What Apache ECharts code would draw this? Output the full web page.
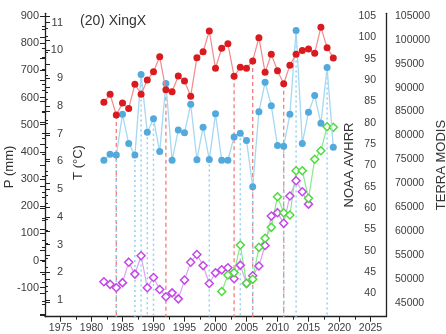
<!DOCTYPE html>
<html>
<head>
<meta charset="utf-8">
<script src="https://cdn.jsdelivr.net/npm/echarts@6/dist/echarts.min.js"></script>
<style>html,body{margin:0;padding:0;background:#fff}#c{width:446px;height:334px}</style>
</head>
<body>
<div id="c"></div>
<script>
// ---------------- data ----------------
const years = [1982,1983,1984,1985,1986,1987,1988,1989,1990,1991,1992,1993,1994,1995,1996,1997,1998,1999,2000,2001,2002,2003,2004,2005,2006,2007,2008,2009,2010,2011,2012,2013,2014,2015,2016,2017,2018,2019];
const tempT = [8.13,8.42,7.67,8.10,7.91,8.78,8.42,8.93,9.23,9.77,8.58,8.51,9.08,8.90,8.35,9.74,9.95,10.70,9.36,10.08,10.24,9.07,9.39,9.36,9.62,10.46,9.21,9.86,9.27,8.80,9.47,9.86,10.00,10.05,9.90,10.84,10.10,9.73];
const precipP = [369,391,388,538,431,388,685,472,522,401,652,369,480,470,575,371,491,372,540,369,369,455,468,442,272,548,656,570,423,421,538,847,431,546,607,505,710,417];
const noaaYears = [1982,1983,1984,1985,1986,1987,1988,1989,1990,1991,1992,1993,1994,1995,1996,1997,1998,1999,2000,2001,2002,2003,2004,2005,2006,2007,2008,2009,2010,2011,2012,2013,2014,2015];
const noaaAVHRR = [42.7,42.1,41.3,42.5,47.3,44.5,48.8,41.3,43.7,40.9,39.2,40.1,38.7,43.1,47.3,49.1,46.5,42.3,44.8,45.5,46.0,43.4,46.6,42.3,44.1,46.4,51.2,58.1,58.9,56.4,62.8,66.4,63.8,60.9];
const modisYears = [2001,2002,2003,2004,2005,2006,2007,2008,2009,2010,2011,2012,2013,2014,2015,2016,2017,2018,2019];
const terraMODIS = [47340,50790,51300,57070,49055,49890,56590,58470,60775,67180,63830,63350,72620,72620,66840,75010,76810,81830,81700];
const redDropYears = [1984,1992,2003,2006,2011];
const blueDropYears = [1984,1987,1988,1989,1990,1999,2004,2006,2011,2013,2018];
const xTicks = {min:1975, max:2025, step:5};
const pTicks = {min:-200, max:900, step:100};
const tTicks = {min:1, max:11, step:1};
const nTicks = {min:35, max:105, step:5};
const mTicks = {min:45000, max:105000, step:5000};
const titleText = '(20) XingX';

// ---------------- layout ----------------
const FONT = 'Liberation Sans, Arial, sans-serif';
const F = {l:45, r:386, t:13.3, b:316.7};
const XR = {min:1972.5, max:2027.5};
const calP = {vTop:900, pTop:16, vBot:-100, pBot:287.7};
const calT = {vTop:11, pTop:22.7, vBot:1, pBot:300};
const calN = {vTop:105, pTop:16, vBot:40, pBot:293.3};
const calM = {vTop:105000, pTop:16, vBot:45000, pBot:302.7};
function ppu(c){return (c.pBot-c.pTop)/(c.vTop-c.vBot);}
function pix(c,v){return c.pTop+(c.vTop-v)*ppu(c);}
function frameExt(c){const k=ppu(c);return {min:c.vBot-(F.b-c.pBot)/k, max:c.vTop+(c.pTop-F.t)/k};}
function xpix(v){return F.l+(v-XR.min)/(XR.max-XR.min)*(F.r-F.l);}
function labelGrid(c,tk){const top=pix(c,tk.max);return {left:F.l,width:F.r-F.l,top:top,height:pix(c,tk.min)-top};}

const AX = '#222';
const LBL = '#3c3c3c';
const gridFrame = {left:F.l, width:F.r-F.l, top:F.t, height:F.b-F.t};
const gridX = {left:xpix(xTicks.min), width:xpix(xTicks.max)-xpix(xTicks.min), top:F.t, height:F.b-F.t};

const hiddenX = g => ({gridIndex:g, type:'value', show:false, min:0, max:1});
const tickStyle = {color:AX, width:1};
const plain = v => String(v);

const option = {
  animation:false,
  textStyle:{fontFamily:FONT},
  grid:[gridFrame, gridX, labelGrid(calP,pTicks), labelGrid(calT,tTicks), labelGrid(calN,nTicks), labelGrid(calM,mTicks)],
  xAxis:[
    {gridIndex:0, type:'value', min:XR.min, max:XR.max, axisLine:{show:true,onZero:false,lineStyle:{color:AX,width:1.3}}, axisTick:{show:false}, axisLabel:{show:false}, splitLine:{show:false}},
    {gridIndex:1, type:'value', min:xTicks.min, max:xTicks.max, interval:xTicks.step,
      axisLine:{show:false}, axisTick:{show:true,length:5,lineStyle:tickStyle},
      minorTick:{show:true,splitNumber:2,length:3,lineStyle:tickStyle},
      axisLabel:{color:LBL,fontSize:10.5,margin:6,fontFamily:FONT,formatter:plain}, splitLine:{show:false}},
    hiddenX(2), hiddenX(3), hiddenX(4), hiddenX(5)
  ],
  yAxis:[
    {gridIndex:0, type:'value', position:'left', min:0, max:1, axisLine:{show:true,onZero:false,lineStyle:{color:AX,width:1.3}}, axisTick:{show:false}, axisLabel:{show:false}, splitLine:{show:false}},
    {gridIndex:0, type:'value', position:'right', min:0, max:1, axisLine:{show:true,onZero:false,lineStyle:{color:AX,width:1.3}}, axisTick:{show:false}, axisLabel:{show:false}, splitLine:{show:false}},
    Object.assign({gridIndex:0, type:'value', show:false}, frameExt(calP)),
    Object.assign({gridIndex:0, type:'value', show:false}, frameExt(calT)),
    Object.assign({gridIndex:0, type:'value', show:false}, frameExt(calN)),
    Object.assign({gridIndex:0, type:'value', show:false}, frameExt(calM)),
    {gridIndex:1, type:'value', show:false, min:0, max:1},
    {gridIndex:2, type:'value', position:'left', min:pTicks.min, max:pTicks.max, interval:pTicks.step,
      axisLine:{show:false}, axisTick:{show:true,length:5,lineStyle:tickStyle},
      minorTick:{show:true,splitNumber:2,length:3,lineStyle:tickStyle},
      axisLabel:{color:LBL,fontSize:11,margin:6,fontFamily:FONT,formatter:v=>v===pTicks.min?'':String(v)}, splitLine:{show:false}},
    {gridIndex:3, type:'value', position:'left', min:tTicks.min, max:tTicks.max, interval:tTicks.step,
      axisLine:{show:false}, axisTick:{show:true,inside:true,length:5,lineStyle:tickStyle},
      minorTick:{show:true,splitNumber:2,length:3,lineStyle:tickStyle},
      axisLabel:{inside:true,align:'right',color:LBL,fontSize:11,margin:18,fontFamily:FONT,formatter:plain}, splitLine:{show:false}},
    {gridIndex:4, type:'value', position:'right', min:nTicks.min, max:nTicks.max, interval:nTicks.step,
      axisLine:{show:false}, axisTick:{show:true,inside:true,length:5,lineStyle:tickStyle},
      minorTick:{show:true,splitNumber:2,length:3,lineStyle:tickStyle},
      axisLabel:{inside:true,align:'right',color:LBL,fontSize:10.5,margin:10,fontFamily:FONT,formatter:v=>v===nTicks.min?'':String(v)}, splitLine:{show:false}},
    {gridIndex:5, type:'value', position:'right', min:mTicks.min, max:mTicks.max, interval:mTicks.step,
      axisLine:{show:false}, axisTick:{show:true,length:5,lineStyle:tickStyle},
      minorTick:{show:true,splitNumber:2,length:3,lineStyle:tickStyle},
      axisLabel:{color:LBL,fontSize:10.5,margin:9,fontFamily:FONT,formatter:plain}, splitLine:{show:false}}
  ],
  series:[
    {type:'custom', xAxisIndex:0, yAxisIndex:3, z:1, silent:true,
      data: redDropYears.map(y=>[y, tempT[years.indexOf(y)]]),
      renderItem:(params,api)=>{const p=api.coord([api.value(0),api.value(1)]);const cs=params.coordSys;
        return {type:'line',shape:{x1:p[0],y1:p[1],x2:p[0],y2:cs.y+cs.height},style:{stroke:'#f07f7f',lineWidth:1.3,lineDash:[4,3]}};}},
    {type:'custom', xAxisIndex:0, yAxisIndex:2, z:2, silent:true,
      data: blueDropYears.map(y=>[y, precipP[years.indexOf(y)]]),
      renderItem:(params,api)=>{const p=api.coord([api.value(0),api.value(1)]);const cs=params.coordSys;
        return {type:'line',shape:{x1:p[0],y1:p[1],x2:p[0],y2:cs.y+cs.height},style:{stroke:'#93cfee',lineWidth:1.5,lineDash:[2,3]}};}},
    {type:'line', name:'NOAA AVHRR', xAxisIndex:0, yAxisIndex:4, z:3, clip:false,
      data: noaaYears.map((y,i)=>[y,noaaAVHRR[i]]),
      symbol:'diamond', symbolSize:8, lineStyle:{color:'#daa3ef',width:1.2},
      itemStyle:{color:'#ffffff',borderColor:'#c447e8',borderWidth:1.5}},
    {type:'line', name:'TERRA MODIS', xAxisIndex:0, yAxisIndex:5, z:3, clip:false,
      data: modisYears.map((y,i)=>[y,terraMODIS[i]]),
      symbol:'diamond', symbolSize:8, lineStyle:{color:'#86ea86',width:1.2},
      itemStyle:{color:'#ffffff',borderColor:'#4cdb3c',borderWidth:1.5}},
    {type:'line', name:'P', xAxisIndex:0, yAxisIndex:2, z:4, clip:false,
      data: years.map((y,i)=>[y,precipP[i]]),
      symbol:'circle', symbolSize:7, lineStyle:{color:'#a6d8f1',width:1.3},
      itemStyle:{color:'#52a9dc'}},
    {type:'line', name:'T', xAxisIndex:0, yAxisIndex:3, z:5, clip:false,
      data: years.map((y,i)=>[y,tempT[i]]),
      symbol:'circle', symbolSize:7, lineStyle:{color:'#f28a8a',width:1.2},
      itemStyle:{color:'#d91a1e'}}
  ],
  graphic:[
    {type:'text', x:80, y:21, style:{text:titleText, font:'14px '+FONT, fill:'#333', align:'left', verticalAlign:'middle', textAlign:'left', textVerticalAlign:'middle'}},
    {type:'text', x:9, y:167, rotation:Math.PI/2, style:{text:'P (mm)', font:'13px '+FONT, fill:'#333', align:'center', verticalAlign:'middle', textAlign:'center', textVerticalAlign:'middle'}},
    {type:'text', x:78.5, y:162.5, rotation:Math.PI/2, style:{text:'T (°C)', font:'13px '+FONT, fill:'#333', align:'center', verticalAlign:'middle', textAlign:'center', textVerticalAlign:'middle'}},
    {type:'text', x:349.5, y:165, rotation:Math.PI/2, style:{text:'NOAA AVHRR', font:'13px '+FONT, fill:'#333', align:'center', verticalAlign:'middle', textAlign:'center', textVerticalAlign:'middle'}},
    {type:'text', x:441, y:165, rotation:Math.PI/2, style:{text:'TERRA MODIS', font:'13px '+FONT, fill:'#333', align:'center', verticalAlign:'middle', textAlign:'center', textVerticalAlign:'middle'}}
  ]
};
const chart = echarts.init(document.getElementById('c'), null, {renderer:'canvas'});
chart.setOption(option);
</script>
</body>
</html>
